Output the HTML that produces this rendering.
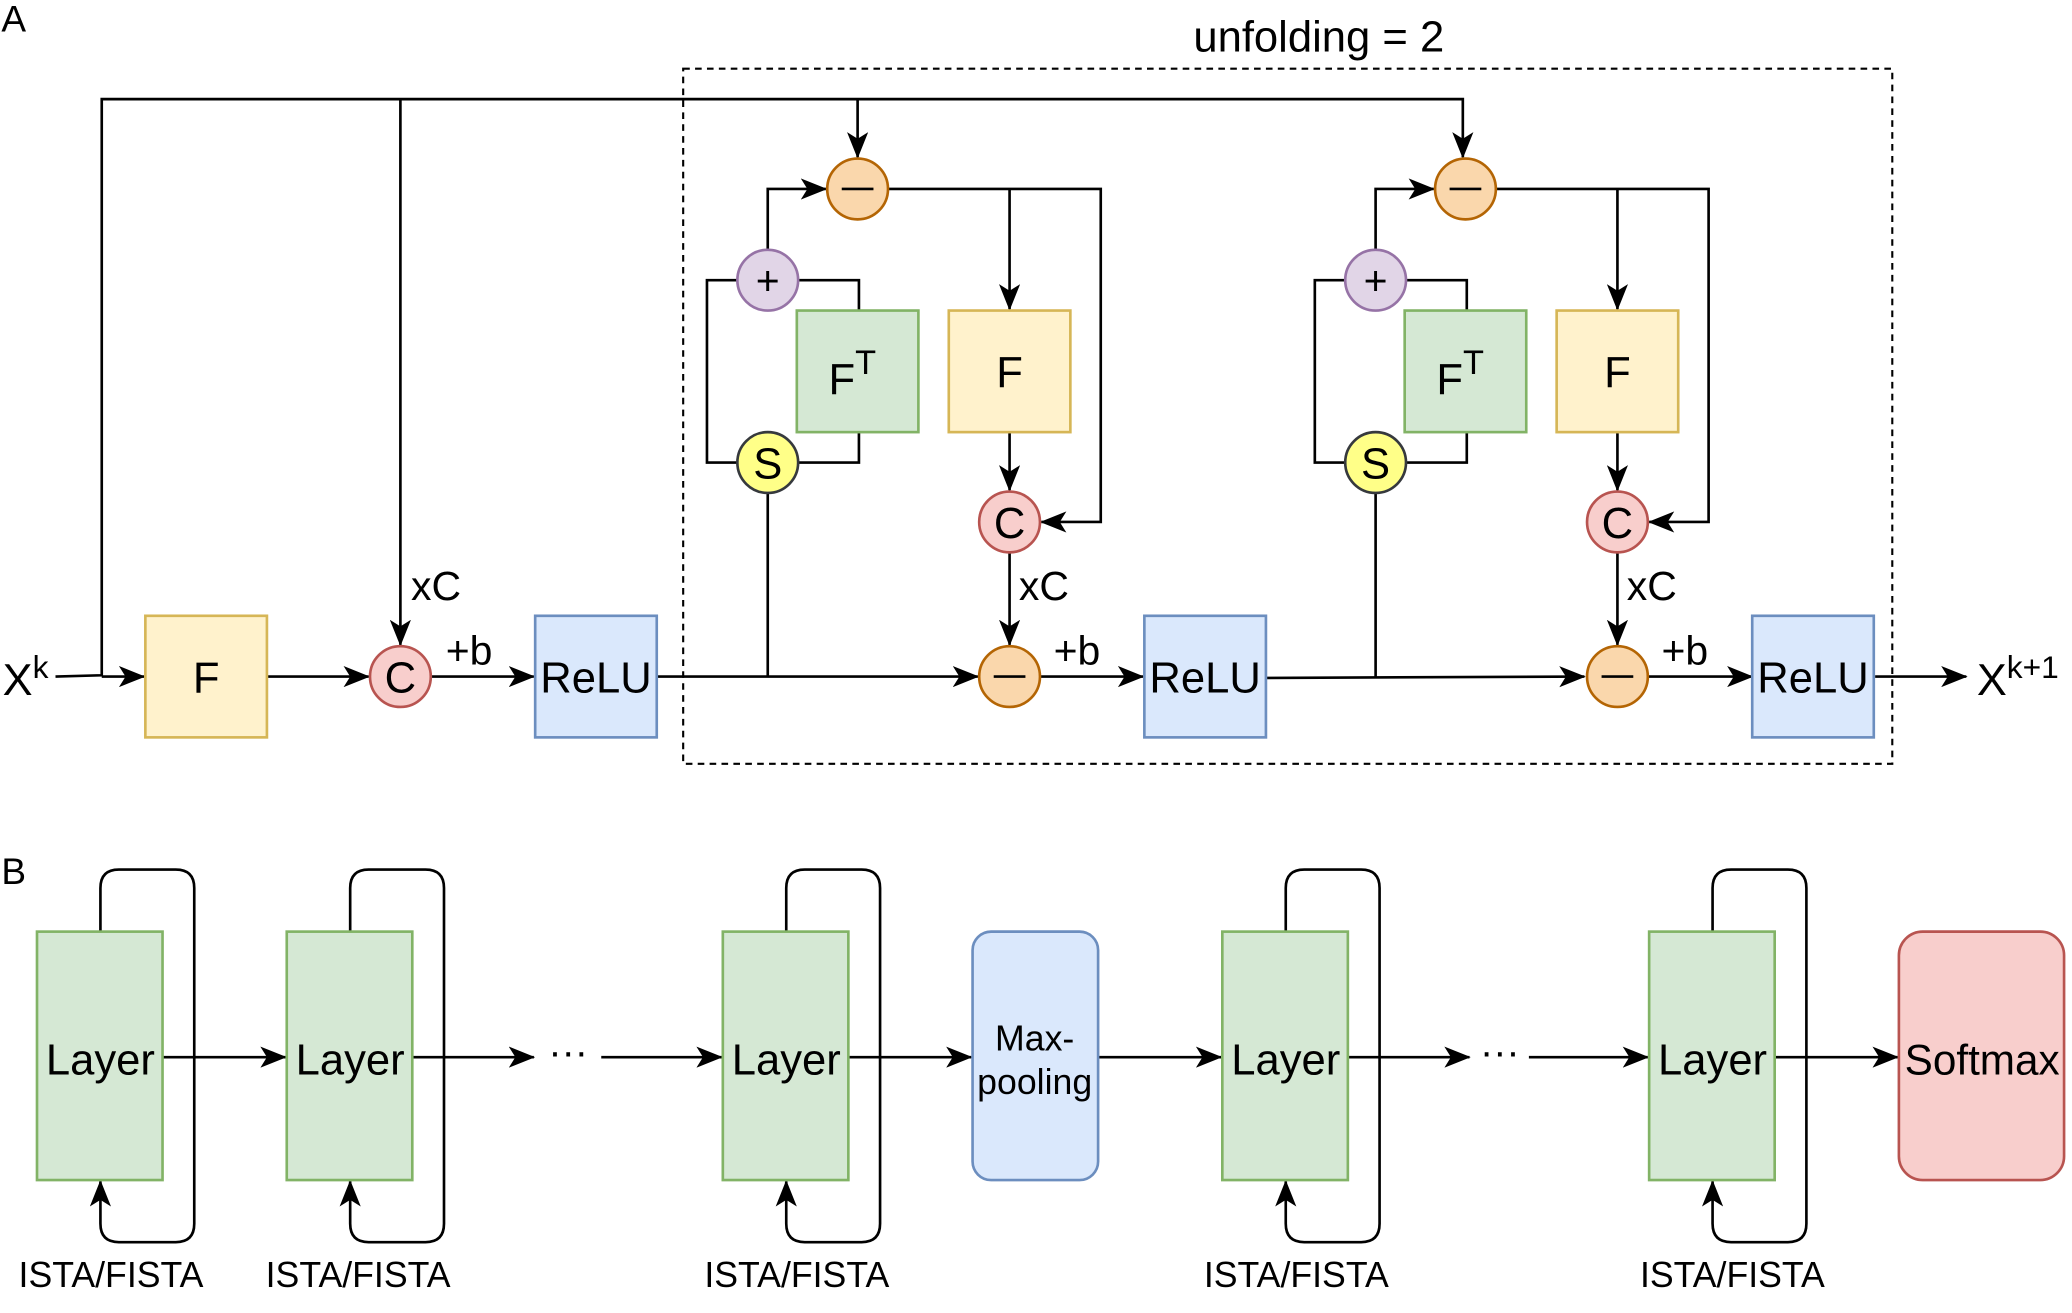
<!DOCTYPE html>
<html><head><meta charset="utf-8"><style>html,body{margin:0;padding:0;background:#fff}svg{display:block}</style></head>
<body>
<svg width="2072" height="1313" viewBox="0 0 1568 993.6" xmlns="http://www.w3.org/2000/svg" font-family="Liberation Sans, sans-serif">
<defs>
<marker id="a" markerWidth="20" markerHeight="16" refX="19" refY="8" orient="auto" markerUnits="userSpaceOnUse">
<path d="M0,0 L20,8 L0,16 L5,8 Z" fill="#000"/>
</marker>
</defs>
<g stroke="#000" stroke-width="2" fill="none">
<polyline points="42,512 77,511 77,75 1107,75 1107,119" marker-end="url(#a)"/>
<line x1="77" y1="512" x2="109" y2="512" marker-end="url(#a)"/>
<line x1="303" y1="75" x2="303" y2="488" marker-end="url(#a)"/>
<line x1="649" y1="75" x2="649" y2="119" marker-end="url(#a)"/>
<line x1="202" y1="512" x2="279" y2="512" marker-end="url(#a)"/>
<line x1="326" y1="512" x2="404" y2="512" marker-end="url(#a)"/>
<line x1="497" y1="512" x2="740" y2="512" marker-end="url(#a)"/>
<line x1="787" y1="512" x2="865" y2="512" marker-end="url(#a)"/>
<line x1="958" y1="513" x2="1199" y2="512" marker-end="url(#a)"/>
<line x1="1246" y1="512" x2="1326" y2="512" marker-end="url(#a)"/>
<line x1="1419" y1="512" x2="1488" y2="512" marker-end="url(#a)"/>
</g>
<rect x="517" y="52" width="915" height="526" fill="none" stroke="#000" stroke-width="1.6" stroke-dasharray="5,4"/>
<text x="998" y="39" font-size="33" text-anchor="middle">unfolding = 2</text>
<text x="1" y="24" font-size="28">A</text>
<text x="1" y="669" font-size="28">B</text>
<text x="2" y="526" font-size="34">X<tspan dy="-13" font-size="24">k</tspan></text>
<text x="1496" y="526" font-size="34">X<tspan dy="-13" font-size="24">k+1</tspan></text>
<rect x="110" y="466" width="92" height="92" fill="#fff2cc" stroke="#d6b656" stroke-width="2"/>
<text x="156" y="524" font-size="33" text-anchor="middle">F</text>
<circle cx="303" cy="512" r="23" fill="#f8cecc" stroke="#b85450" stroke-width="2"/>
<text x="303" y="524" font-size="33" text-anchor="middle">C</text>
<text x="330" y="454" font-size="31" text-anchor="middle">xC</text>
<text x="355" y="503" font-size="31" text-anchor="middle">+b</text>
<rect x="405" y="466" width="92" height="92" fill="#dae8fc" stroke="#6c8ebf" stroke-width="2"/>
<text x="451" y="524" font-size="33" text-anchor="middle">ReLU</text>
<g id="unit">
<g stroke="#000" stroke-width="2" fill="none">
<polyline points="672,143 833,143 833,395 788,395" marker-end="url(#a)"/>
<line x1="764" y1="143" x2="764" y2="234" marker-end="url(#a)"/>
<line x1="764" y1="327" x2="764" y2="371" marker-end="url(#a)"/>
<line x1="764" y1="418" x2="764" y2="488" marker-end="url(#a)"/>
<polyline points="581,189 581,143 625,143" marker-end="url(#a)"/>
<polyline points="604,212 650,212 650,235"/>
<polyline points="650,327 650,350 604,350"/>
<polyline points="558,350 535,350 535,212 558,212"/>
<line x1="581" y1="373" x2="581" y2="512"/>
</g>
<circle cx="649" cy="143" r="23" fill="#fad7ac" stroke="#b46504" stroke-width="2"/>
<line x1="637" y1="143" x2="661" y2="143" stroke="#000" stroke-width="2"/>
<rect x="603" y="235" width="92" height="92" fill="#d5e8d4" stroke="#82b366" stroke-width="2"/>
<text x="645" y="298" font-size="33" text-anchor="middle">F<tspan dy="-15" font-size="26">T</tspan></text>
<rect x="718" y="235" width="92" height="92" fill="#fff2cc" stroke="#d6b656" stroke-width="2"/>
<text x="764" y="293" font-size="33" text-anchor="middle">F</text>
<circle cx="764" cy="395" r="23" fill="#f8cecc" stroke="#b85450" stroke-width="2"/>
<text x="764" y="407" font-size="33" text-anchor="middle">C</text>
<circle cx="581" cy="212" r="23" fill="#e1d5e7" stroke="#9673a6" stroke-width="2"/>
<text x="581" y="223" font-size="31" text-anchor="middle">+</text>
<circle cx="581" cy="350" r="23" fill="#ffff88" stroke="#36393d" stroke-width="2"/>
<text x="581" y="362" font-size="33" text-anchor="middle">S</text>
<circle cx="764" cy="512" r="23" fill="#fad7ac" stroke="#b46504" stroke-width="2"/>
<line x1="752" y1="512" x2="776" y2="512" stroke="#000" stroke-width="2"/>
<text x="790" y="454" font-size="31" text-anchor="middle">xC</text>
<text x="815" y="503" font-size="31" text-anchor="middle">+b</text>
<rect x="866" y="466" width="92" height="92" fill="#dae8fc" stroke="#6c8ebf" stroke-width="2"/>
<text x="912" y="524" font-size="33" text-anchor="middle">ReLU</text>
</g>
<use href="#unit" transform="translate(460,0)"/>
<g stroke="#000" stroke-width="2" fill="none">
<g id="loop"><path d="M76,705 V672 Q76,658 90,658 H133 Q147,658 147,672 V926 Q147,940 133,940 H90 Q76,940 76,926 V894" marker-end="url(#a)"/></g>
<use href="#loop" transform="translate(189,0)"/>
<use href="#loop" transform="translate(519,0)"/>
<use href="#loop" transform="translate(897,0)"/>
<use href="#loop" transform="translate(1220,0)"/>
<line x1="123" y1="800" x2="216" y2="800" marker-end="url(#a)"/>
<line x1="312" y1="800" x2="404" y2="800" marker-end="url(#a)"/>
<line x1="455" y1="800" x2="546" y2="800" marker-end="url(#a)"/>
<line x1="642" y1="800" x2="735" y2="800" marker-end="url(#a)"/>
<line x1="831" y1="800" x2="924" y2="800" marker-end="url(#a)"/>
<line x1="1020" y1="800" x2="1112" y2="800" marker-end="url(#a)"/>
<line x1="1157" y1="800" x2="1247" y2="800" marker-end="url(#a)"/>
<line x1="1343" y1="800" x2="1436" y2="800" marker-end="url(#a)"/>
</g>
<text x="430" y="806" font-size="30" text-anchor="middle">···</text>
<text x="1135" y="806" font-size="30" text-anchor="middle">···</text>
<g fill="#d5e8d4" stroke="#82b366" stroke-width="2">
<rect x="28" y="705" width="95" height="188"/>
<rect x="217" y="705" width="95" height="188"/>
<rect x="547" y="705" width="95" height="188"/>
<rect x="925" y="705" width="95" height="188"/>
<rect x="1248" y="705" width="95" height="188"/>
</g>
<g font-size="33" text-anchor="middle">
<text x="76" y="813">Layer</text>
<text x="265" y="813">Layer</text>
<text x="595" y="813">Layer</text>
<text x="973" y="813">Layer</text>
<text x="1296" y="813">Layer</text>
</g>
<g font-size="27" text-anchor="middle">
<text x="84" y="974">ISTA/FISTA</text>
<text x="271" y="974">ISTA/FISTA</text>
<text x="603" y="974">ISTA/FISTA</text>
<text x="981" y="974">ISTA/FISTA</text>
<text x="1311" y="974">ISTA/FISTA</text>
</g>
<rect x="736" y="705" width="95" height="188" rx="14" fill="#dae8fc" stroke="#6c8ebf" stroke-width="2"/>
<text x="783" y="795" font-size="27" text-anchor="middle">Max-</text>
<text x="783" y="828" font-size="27" text-anchor="middle">pooling</text>
<rect x="1437" y="705" width="125" height="188" rx="18" fill="#f8cecc" stroke="#b85450" stroke-width="2"/>
<text x="1500" y="813" font-size="32" text-anchor="middle">Softmax</text>
</svg>
</body></html>
